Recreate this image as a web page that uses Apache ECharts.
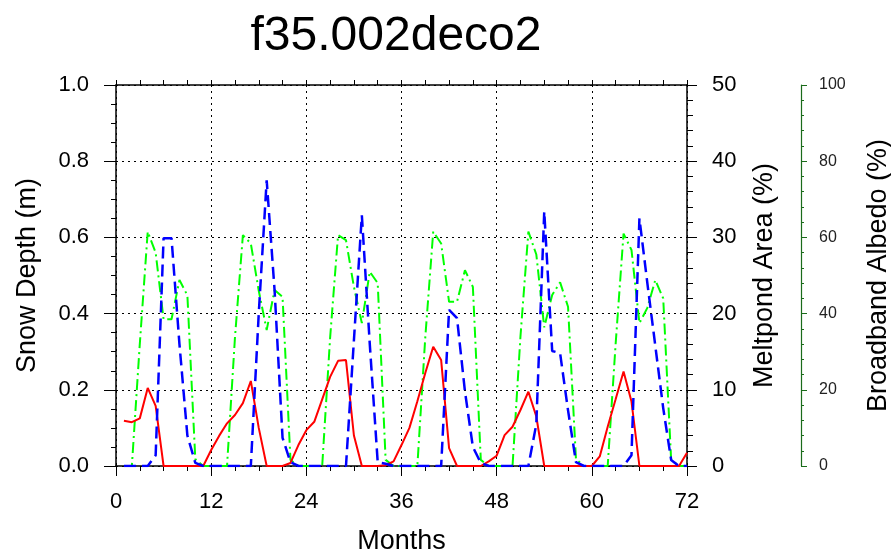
<!DOCTYPE html>
<html>
<head>
<meta charset="utf-8">
<script src="https://cdn.jsdelivr.net/npm/echarts@6/dist/echarts.min.js"></script>
<style>
html,body{margin:0;padding:0;background:#fff;}
#chart{width:891px;height:554px;}
</style>
</head>
<body>
<div id="chart"></div>
<script>
const titleText = 'f35.002deco2';
const months = [];
for (let m = 1; m <= 72; m++) months.push(m);

const snowDepth = [
  0.119, 0.115, 0.125, 0.205, 0.158, 0, 0, 0, 0, 0, 0, 0.042,
  0.079, 0.112, 0.134, 0.165, 0.223, 0.1, 0, 0, 0, 0.008, 0.055, 0.094,
  0.116, 0.175, 0.234, 0.276, 0.278, 0.08, 0, 0, 0, 0.002, 0.012, 0.055,
  0.1, 0.17, 0.244, 0.313, 0.278, 0.047, 0, 0, 0, 0, 0.012, 0.027,
  0.081, 0.103, 0.147, 0.195, 0.13, 0, 0, 0, 0, 0, 0, 0,
  0.025, 0.103, 0.175, 0.248, 0.169, 0, 0, 0, 0, 0, 0, 0.035
];
const meltpondArea = [
  0, 0, 0, 0, 1.4, 29.9, 29.9, 16, 4, 0.4, 0, 0,
  0, 0, 0, 0, 0, 20, 37.5, 23, 3.7, 0.5, 0, 0,
  0, 0, 0, 0, 0, 16.5, 32.9, 16, 0.5, 0.3, 0, 0,
  0, 0, 0, 0, 0, 20.5, 19.4, 9.8, 2.5, 0.4, 0, 0,
  0, 0, 0, 0, 5.5, 33.4, 15.1, 14.8, 7.3, 0.5, 0, 0,
  0, 0, 0, 0, 1.4, 32.5, 24, 15.8, 7.6, 0.8, 0, 0
];
const albedo = [
  0, 0, 32, 61.5, 56, 38.5, 38.5, 48.8, 44.8, 1.8, 0, 0,
  0, 0, 33.7, 60.6, 58.4, 46, 35.7, 46.2, 44.4, 1.6, 0, 0,
  0, 0, 33.7, 60.6, 59.3, 47, 37.5, 51, 48, 1.6, 0, 0,
  0, 0, 33.8, 61.5, 58.4, 43.1, 43.1, 51.4, 47, 1.6, 0, 0,
  0, 0, 34, 61.5, 55.5, 36.4, 44.9, 48.2, 41.8, 1.8, 0, 0,
  0, 0, 32, 61, 56.7, 37.5, 41.5, 48.8, 44, 1.6, 0, 0
];

const FONT = '"Liberation Sans", Arial, Helvetica, sans-serif';
const pairs = arr => months.map((m, i) => [m, arr[i]]);

const chart = echarts.init(document.getElementById('chart'), null, {renderer: 'canvas'});
const dotted = {type: [2, 4], color: '#000', width: 1};

chart.setOption({
  animation: false,
  backgroundColor: '#fff',
  title: {
    text: titleText, left: 391, top: 8, textAlign: 'center',
    textStyle: {fontFamily: FONT, fontSize: 48, fontWeight: 'normal', color: '#000'}
  },
  grid: {left: 116, right: 204, top: 85, bottom: 88, containLabel: false, outerBoundsMode: 'none'},
  xAxis: [{
    type: 'value', min: 0, max: 72, interval: 12, position: 'bottom',
    name: 'Months', nameLocation: 'middle', nameGap: 62,
    nameTextStyle: {fontFamily: FONT, fontSize: 27, color: '#000'},
    axisLine: {show: true, onZero: false, lineStyle: {color: '#000', width: 1.5}},
    axisTick: {show: true, inside: false, length: 10, lineStyle: {color: '#000', width: 1}},
    minorTick: {show: true, splitNumber: 4, length: 5, lineStyle: {color: '#000', width: 1}},
    axisLabel: {fontFamily: FONT, fontSize: 22, color: '#000', margin: 25},
    splitLine: {show: true, lineStyle: dotted}
  }, {
    type: 'value', min: 0, max: 72, interval: 3, position: 'top',
    axisLine: {show: true, onZero: false, lineStyle: {color: '#000', width: 1.5}},
    axisTick: {show: true, inside: false, length: 5, lineStyle: {color: '#000', width: 1}},
    axisLabel: {show: false}, splitLine: {show: false}
  }],
  yAxis: [{
    type: 'value', min: 0, max: 1, interval: 0.2, position: 'left',
    name: 'Snow Depth (m)', nameLocation: 'middle', nameGap: 75,
    nameTextStyle: {fontFamily: FONT, fontSize: 27, color: '#000'},
    axisLine: {show: true, onZero: false, lineStyle: {color: '#000', width: 1.5}},
    axisTick: {show: true, inside: false, length: 12, lineStyle: {color: '#000', width: 1}},
    minorTick: {show: true, splitNumber: 4, length: 5, lineStyle: {color: '#000', width: 1}},
    axisLabel: {fontFamily: FONT, fontSize: 22, color: '#000', margin: 27,
      formatter: v => v.toFixed(1)},
    splitLine: {show: true, lineStyle: dotted}
  }, {
    type: 'value', min: 0, max: 50, interval: 10, position: 'right', offset: 0,
    name: 'Meltpond Area (%)', nameLocation: 'middle', nameGap: 64,
    nameTextStyle: {fontFamily: FONT, fontSize: 27, color: '#000'},
    axisLine: {show: true, onZero: false, lineStyle: {color: '#000', width: 1.5}},
    axisTick: {show: true, inside: false, length: 10, lineStyle: {color: '#000', width: 1}},
    minorTick: {show: true, splitNumber: 5, length: 6, lineStyle: {color: '#000', width: 1}},
    axisLabel: {fontFamily: FONT, fontSize: 22, color: '#000', margin: 25},
    splitLine: {show: false}
  }, {
    type: 'value', min: 0, max: 100, interval: 20, position: 'right', offset: 114,
    name: 'Broadband Albedo (%)', nameLocation: 'middle', nameGap: 64,
    nameTextStyle: {fontFamily: FONT, fontSize: 27, color: '#000'},
    axisLine: {show: true, onZero: false, lineStyle: {color: '#1a6b1a', width: 1.2}},
    axisTick: {show: true, inside: false, length: 6, lineStyle: {color: '#1a6b1a', width: 1}},
    minorTick: {show: true, splitNumber: 5, length: 3, lineStyle: {color: '#1a6b1a', width: 1}},
    axisLabel: {fontFamily: FONT, fontSize: 16, color: '#222', margin: 18},
    splitLine: {show: false}
  }],
  series: [{
    name: 'Broadband Albedo', type: 'line', xAxisIndex: 0, yAxisIndex: 2,
    data: pairs(albedo), symbol: 'none', z: 2,
    lineStyle: {color: '#00ff00', width: 2, type: [11, 4, 2, 4]}
  }, {
    name: 'Snow Depth', type: 'line', xAxisIndex: 0, yAxisIndex: 0,
    data: pairs(snowDepth), symbol: 'none', z: 3,
    lineStyle: {color: '#ff0000', width: 2, type: 'solid'}
  }, {
    name: 'Meltpond Area', type: 'line', xAxisIndex: 0, yAxisIndex: 1,
    data: pairs(meltpondArea), symbol: 'none', z: 4,
    lineStyle: {color: '#0000ff', width: 2.5, type: [12, 6]}
  }]
});
</script>
</body>
</html>
